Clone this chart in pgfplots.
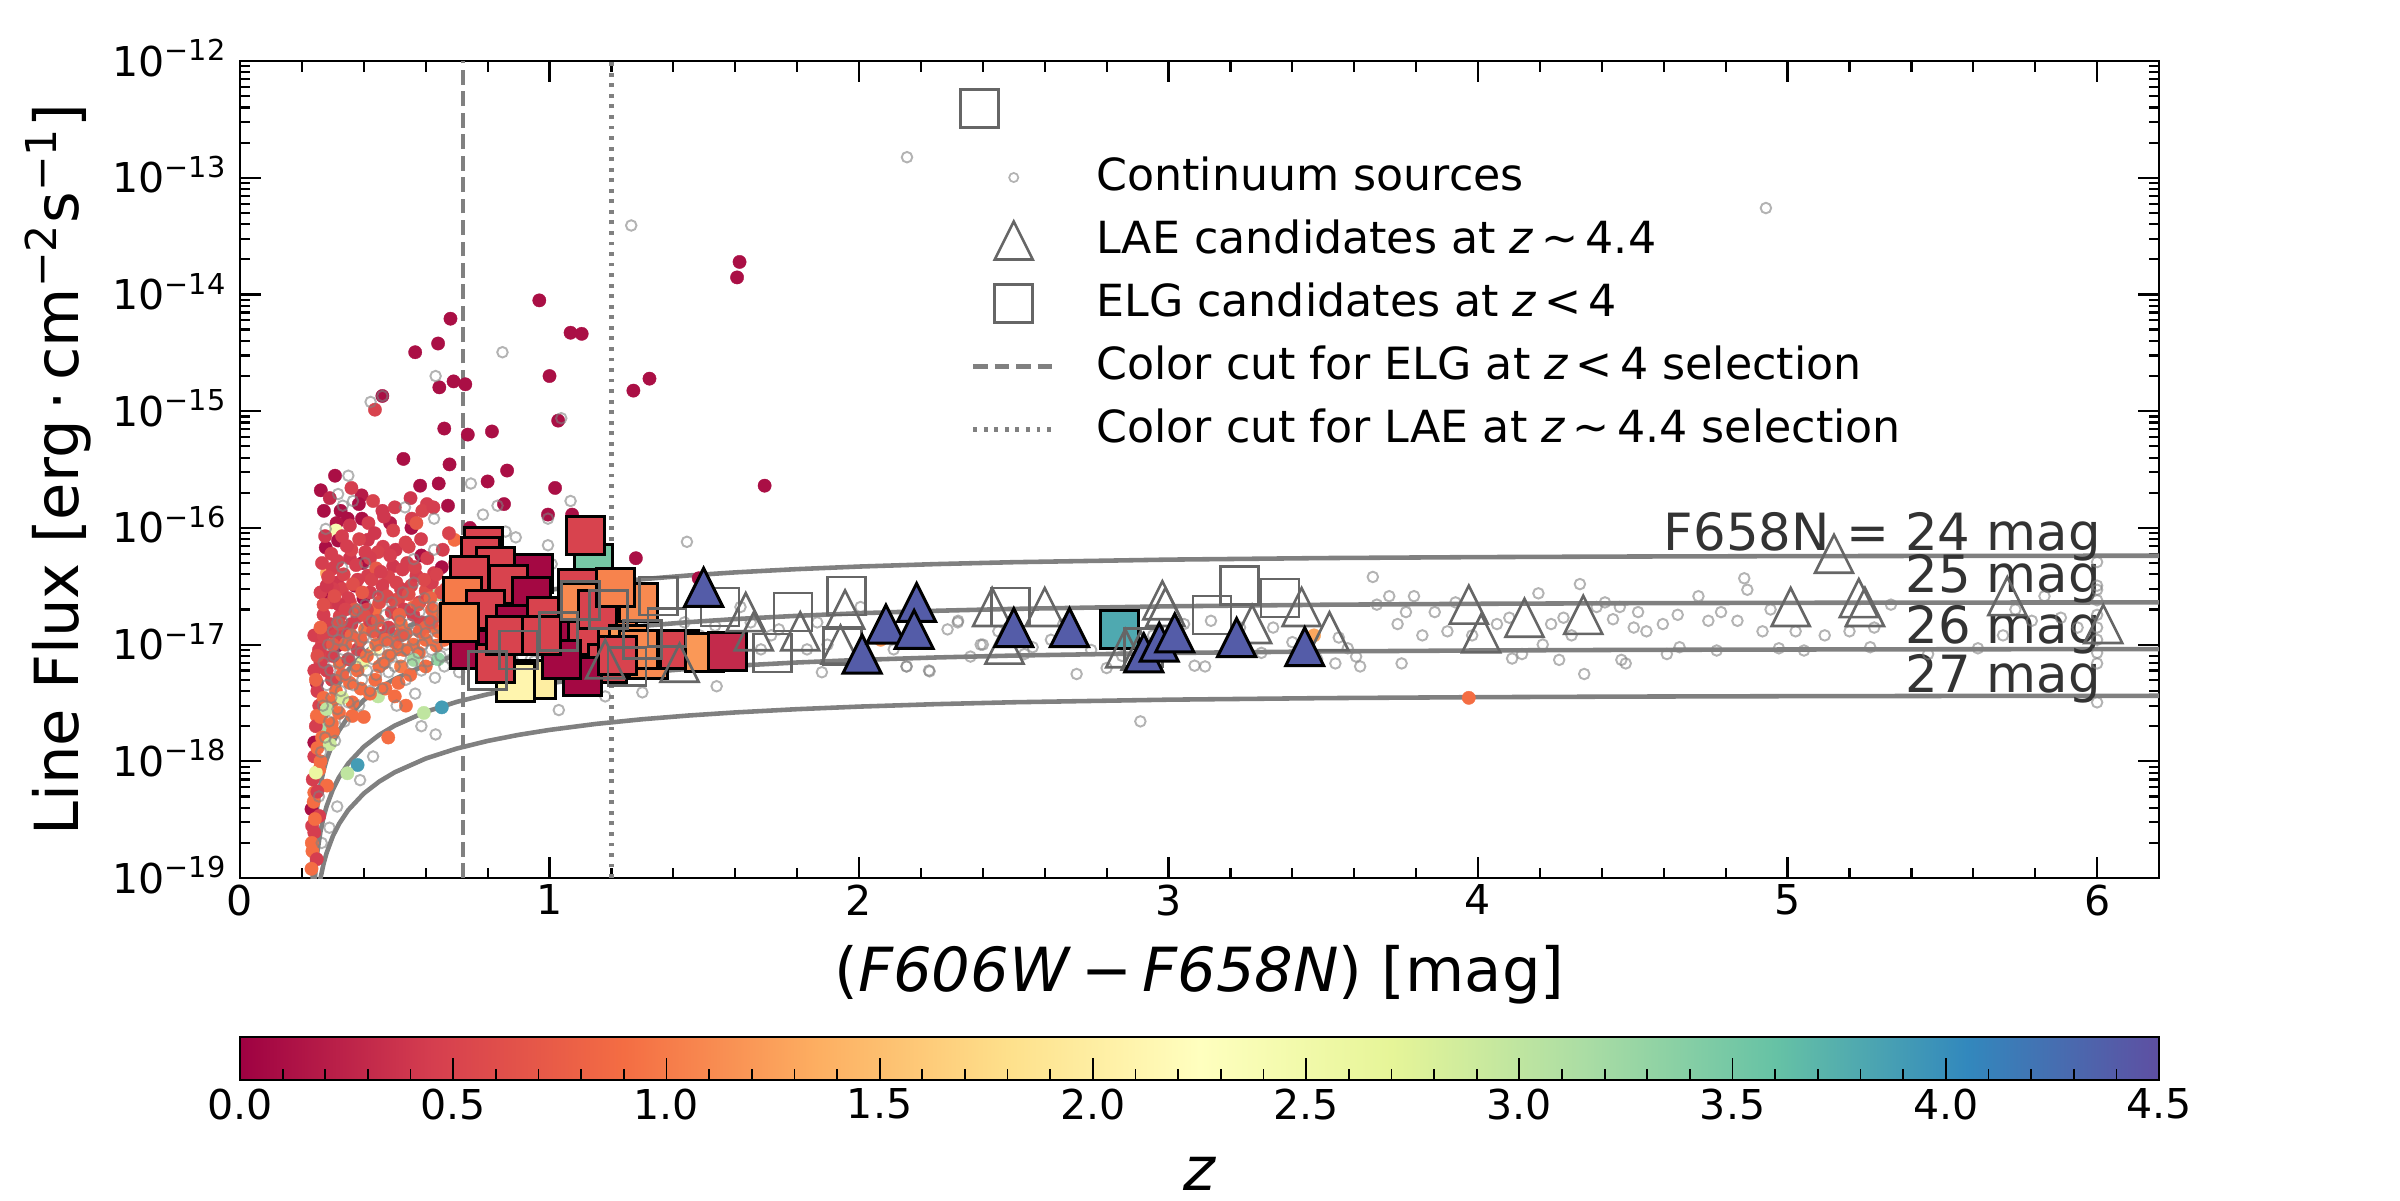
\documentclass[border=0pt]{standalone}
\usepackage{fontspec}
\setmainfont{DejaVu Sans}
\usepackage{pgfplots}
\usepackage{pgfplotstable}
\pgfplotsset{compat=1.18}
\usetikzlibrary{calc}

\newcommand{\ticksize}{\fontsize{11.7}{14}\selectfont}
\newcommand{\legsize}{\fontsize{12.6}{15}\selectfont}
\newcommand{\labsize}{\fontsize{17.3}{20}\selectfont}
\newcommand{\cursize}{\fontsize{14.6}{17}\selectfont}
\newcommand{\E}[1]{10\textsuperscript{−#1}}

% triangle like matplotlib '^' (as wide as tall)
\pgfdeclareplotmark{mtri}{%
  \pgfpathmoveto{\pgfqpoint{0pt}{\pgfplotmarksize}}%
  \pgfpathlineto{\pgfqpoint{-\pgfplotmarksize}{-\pgfplotmarksize}}%
  \pgfpathlineto{\pgfqpoint{\pgfplotmarksize}{-\pgfplotmarksize}}%
  \pgfpathclose\pgfusepathqfillstroke}
\pgfdeclareplotmark{mtrio}{%
  \pgfpathmoveto{\pgfqpoint{0pt}{\pgfplotmarksize}}%
  \pgfpathlineto{\pgfqpoint{-\pgfplotmarksize}{-\pgfplotmarksize}}%
  \pgfpathlineto{\pgfqpoint{\pgfplotmarksize}{-\pgfplotmarksize}}%
  \pgfpathclose\pgfusepathqstroke}

\pgfplotsset{
  /pgf/number format/assume math mode=true,
  mk legend/.style={legend image code/.code={\draw[##1] plot coordinates {(0.405cm,0cm)};}},
  ln legend/.style={legend image code/.code={\draw[##1] (0cm,0cm) -- (0.81cm,0cm);}},
}

% colour-coded sources (x, line flux, z)
\pgfplotstableread{
x y z
1.614 1.9e-14 0.1
1.606 1.4e-14 0.1
0.967 8.9e-15 0.1
0.680 6.2e-15 0.1
1.068 4.7e-15 0.1
1.104 4.6e-15 0.1
0.640 3.8e-15 0.1
0.566 3.2e-15 0.1
1.000 2.0e-15 0.1
1.323 1.9e-15 0.1
1.271 1.5e-15 0.1
0.690 1.8e-15 0.1
0.728 1.7e-15 0.1
0.644 1.6e-15 0.1
0.460 1.35e-15 0.1
0.436 1.03e-15 0.5
1.028 8.3e-16 0.1
0.660 7.1e-16 0.1
0.736 6.3e-16 0.1
0.814 6.7e-16 0.1
1.695 2.3e-16 0.1
0.528 3.9e-16 0.1
0.677 3.5e-16 0.1
0.307 2.8e-16 0.1
0.863 3.1e-16 0.1
0.261 2.1e-16 0.1
0.582 2.3e-16 0.1
0.642 2.4e-16 0.1
0.800 2.5e-16 0.1
1.018 2.2e-16 0.1
0.393 1.9e-16 0.2
0.271 1.4e-16 0.1
0.384 1.6e-16 0.1
0.551 1.8e-16 0.4
0.604 1.6e-16 0.45
0.589 1.4e-16 0.5
0.460 1.4e-16 0.4
0.672 1.55e-16 0.1
0.853 1.6e-16 0.1
0.348 1.2e-16 0.1
0.394 1.2e-16 0.1
0.312 1.1e-16 0.15
0.995 1.3e-16 0.1
1.073 1.3e-16 0.1
0.485 1.1e-16 0.2
0.554 1.0e-16 0.1
0.743 1.0e-16 0.1
0.310 9.5e-17 2.4
0.277 6.8e-17 0.1
0.317 7.8e-17 0.1
0.413 7.9e-17 0.4
0.462 6.9e-17 0.45
0.503 6.5e-17 0.4
0.545 6.9e-17 0.5
0.355 5.5e-17 0.4
0.396 5.0e-17 0.1
0.446 6.2e-17 0.5
0.586 5.8e-17 0.1
0.281 4.1e-17 1.3
0.314 3.4e-17 0.4
0.371 3.2e-17 0.1
0.413 3.9e-17 0.45
0.495 4.7e-17 0.4
0.553 3.2e-17 0.5
0.627 4.1e-17 0.45
0.652 4.6e-17 0.1
0.289 2.7e-17 0.1
0.297 2.3e-17 0.45
0.355 2.3e-17 0.5
0.399 2.5e-17 0.1
0.462 2.75e-17 0.5
0.512 2.45e-17 0.55
0.561 2.1e-17 0.9
0.619 2.6e-17 0.5
0.640 2.7e-17 3.1
0.668 2.5e-17 3.9
0.660 2.1e-17 0.9
0.322 1.75e-17 0.5
0.380 1.75e-17 0.45
0.437 2.0e-17 0.9
0.512 1.75e-17 0.5
0.586 1.55e-17 0.5
0.635 1.75e-17 0.8
0.281 1.35e-17 0.5
0.338 1.3e-17 0.45
0.404 1.35e-17 0.9
0.462 1.2e-17 0.5
0.536 1.25e-17 0.8
0.264 1.0e-17 0.5
0.314 9.8e-18 0.1
0.380 9.1e-18 0.5
0.437 9.1e-18 2.2
0.512 9.1e-18 0.9
0.578 8.5e-18 0.9
0.635 9.8e-18 0.9
0.272 7.9e-18 0.5
0.322 6.9e-18 0.9
0.396 6.9e-18 2.6
0.462 6.9e-18 0.9
0.561 7.4e-18 3.2
0.248 4.7e-18 0.1
0.297 5.0e-18 0.5
0.355 4.7e-18 0.9
0.437 5.0e-18 0.9
0.512 4.7e-18 0.9
0.256 3.0e-18 0.5
0.297 3.2e-18 0.9
0.363 3.2e-18 0.9
0.446 3.6e-18 3.0
0.536 3.0e-18 0.9
0.652 2.9e-18 3.9
0.248 2.45e-18 0.9
0.272 1.9e-18 3.2
0.297 2.1e-18 0.9
0.363 2.45e-18 0.9
0.479 1.6e-18 0.9
0.594 2.6e-18 3.0
0.240 1.45e-18 0.1
0.380 9.3e-19 3.9
0.347 7.9e-19 3.0
0.256 8.5e-19 0.9
0.240 5.4e-19 0.9
0.281 6.2e-19 0.9
0.231 3.9e-19 0.1
0.256 3.4e-19 0.45
0.240 2.45e-19 0.45
0.234 1.7e-19 0.9
0.248 1.45e-19 0.45
0.231 1.2e-19 0.9
0.693 7.9e-17 0.9
0.700 4.4e-17 0.1
1.135 5.4e-17 0.1
1.279 5.5e-17 0.1
1.482 3.7e-17 0.1
1.023 1.5e-17 3.9
1.130 8.1e-18 3.9
2.070 1.1e-17 1.2
3.470 1.2e-17 1.3
3.970 3.5e-18 0.9
0.330 8.5e-17 0.45
0.360 6.5e-17 0.5
0.420 5.5e-17 0.45
0.440 4.5e-17 0.7
0.480 3.8e-17 0.5
0.520 3.0e-17 0.45
0.540 5.0e-17 0.45
0.570 3.9e-17 0.45
0.600 2.9e-17 0.6
0.620 2.0e-17 0.8
0.300 4.5e-17 0.45
0.330 3.0e-17 0.5
0.350 2.5e-17 0.45
0.370 2.0e-17 0.7
0.420 2.8e-17 0.45
0.450 2.3e-17 0.6
0.490 1.9e-17 0.5
0.520 1.5e-17 0.9
0.560 1.8e-17 0.45
0.600 1.4e-17 0.8
0.640 1.3e-17 0.9
0.680 1.6e-17 1.0
0.270 1.8e-17 0.45
0.290 1.5e-17 0.45
0.310 1.2e-17 0.5
0.340 1.0e-17 0.8
0.360 1.5e-17 0.45
0.390 1.1e-17 0.8
0.420 1.6e-17 0.45
0.440 1.0e-17 0.9
0.480 1.4e-17 0.5
0.500 1.05e-17 0.8
0.530 9.0e-18 0.9
0.560 1.0e-17 0.9
0.600 1.1e-17 0.9
0.660 1.1e-17 0.9
0.690 1.3e-17 0.9
0.260 7.0e-18 0.45
0.280 6.0e-18 0.45
0.300 8.0e-18 0.45
0.330 5.5e-18 0.8
0.350 7.5e-18 0.5
0.380 6.0e-18 0.9
0.410 8.0e-18 0.9
0.450 6.5e-18 0.9
0.480 8.0e-18 0.9
0.520 6.5e-18 1.0
0.550 5.5e-18 0.9
0.600 6.5e-18 0.9
0.640 7.5e-18 3.3
0.250 4.0e-18 0.45
0.270 3.5e-18 0.9
0.310 4.0e-18 0.9
0.330 3.5e-18 2.8
0.390 4.2e-18 0.9
0.420 3.8e-18 0.9
0.470 4.2e-18 0.9
0.500 3.6e-18 0.9
0.245 2.0e-18 0.45
0.260 2.4e-18 0.9
0.280 2.8e-18 3.0
0.320 2.6e-18 0.9
0.400 2.4e-18 0.9
0.240 1.1e-18 0.45
0.250 1.3e-18 0.9
0.265 1.6e-18 0.9
0.290 1.4e-18 2.9
0.300 1.8e-18 0.9
0.235 7.0e-19 0.45
0.245 8.0e-19 2.6
0.260 1.0e-18 0.9
0.238 4.5e-19 0.9
0.250 5.5e-19 0.45
0.233 2.8e-19 0.45
0.242 3.2e-19 0.9
0.232 2.0e-19 0.9
0.300 3.0e-17 0.45
0.320 2.2e-17 0.4
0.380 3.6e-17 0.45
0.410 2.0e-17 0.5
0.460 3.2e-17 0.45
0.500 2.4e-17 0.6
0.530 2.0e-17 0.45
0.580 2.3e-17 0.5
0.620 3.4e-17 0.45
0.650 2.8e-17 0.6
0.260 2.8e-17 0.45
0.280 3.2e-17 0.4
0.240 1.2e-17 0.45
0.255 9.0e-18 0.45
0.270 1.2e-17 0.5
0.240 6.0e-18 0.45
0.265 5.0e-17 0.45
0.275 8.5e-17 0.4
0.285 3.8e-17 0.5
0.295 6.0e-17 0.45
0.305 2.6e-17 0.6
0.315 5.2e-17 0.45
0.325 1.4e-16 0.1
0.335 4.0e-17 0.5
0.345 7.0e-17 0.45
0.355 1.05e-16 0.4
0.365 3.3e-17 0.6
0.375 4.8e-17 0.45
0.385 8.0e-17 0.5
0.395 2.8e-17 0.7
0.405 6.2e-17 0.45
0.415 1.1e-16 0.45
0.425 3.6e-17 0.5
0.435 9.0e-17 0.4
0.445 1.6e-17 0.7
0.455 4.2e-17 0.45
0.465 1.25e-16 0.4
0.475 2.6e-17 0.55
0.485 5.8e-17 0.45
0.495 9.5e-17 0.5
0.505 3.4e-17 0.5
0.515 1.8e-17 0.8
0.525 4.4e-17 0.45
0.535 7.5e-17 0.5
0.545 2.7e-17 0.6
0.555 1.2e-16 0.45
0.565 4.6e-17 0.5
0.575 2.2e-17 0.7
0.585 8.0e-17 0.45
0.595 3.6e-17 0.55
0.605 5.5e-17 0.45
0.615 2.5e-17 0.8
0.625 1.5e-16 0.45
0.635 4.0e-17 0.5
0.645 1.9e-17 0.9
0.655 6.5e-17 0.45
0.665 3.0e-17 0.6
0.675 9.0e-17 0.5
0.685 2.2e-17 0.9
0.695 5.0e-17 0.45
0.705 1.4e-17 0.9
0.290 1.8e-16 0.3
0.360 2.2e-16 0.45
0.430 1.7e-16 0.5
0.500 1.5e-16 0.45
0.570 1.1e-16 0.7
0.270 2.2e-17 0.6
0.260 1.4e-17 0.8
0.250 8.0e-18 0.6
0.245 5.0e-18 0.8
0.300 1.0e-17 0.7
0.320 1.5e-17 0.6
0.340 2.0e-17 0.5
0.360 1.2e-17 0.8
0.400 1.8e-17 0.6
0.430 1.3e-17 0.7
0.470 1.1e-17 0.8
0.520 1.2e-17 0.7
0.580 1.3e-17 0.8
0.620 1.55e-17 0.7
0.670 1.9e-17 1.1
0.710 2.4e-17 1.0
0.730 1.8e-17 0.9
0.760 3.0e-17 0.5
0.800 1.2e-17 0.6
0.850 2.2e-17 0.5
}\zdots

% continuum sources (x, line flux)
\pgfplotstableread{
x y
2.155 1.5e-13
1.264 3.9e-14
4.930 5.5e-14
0.848 3.2e-15
0.632 2.0e-15
0.422 1.2e-15
0.460 1.35e-15
1.038 8.7e-16
0.350 2.8e-16
0.746 2.4e-16
0.317 1.95e-16
0.365 1.7e-16
0.332 1.55e-16
0.533 1.5e-16
0.627 1.2e-16
0.785 1.3e-16
0.832 1.55e-16
1.068 1.7e-16
0.995 1.2e-16
0.277 9.8e-17
1.444 7.6e-17
0.858 9.3e-17
0.891 8.3e-17
0.995 7.1e-17
0.790 7.7e-17
1.007 4.9e-17
0.330 4.6e-17
0.404 5.0e-17
0.561 5.4e-17
0.627 6.5e-17
0.314 1.55e-17
0.380 2.0e-17
0.561 3.4e-17
1.030 2.75e-18
1.540 4.4e-18
1.300 3.9e-18
1.180 3.6e-18
0.632 1.7e-18
0.586 2.0e-18
0.430 1.1e-18
0.388 6.9e-19
0.314 4.1e-19
0.289 2.7e-19
0.264 2.0e-19
1.741 1.35e-17
1.832 9.1e-18
1.865 1.55e-17
1.898 1.0e-17
2.005 2.1e-17
2.070 1.2e-17
2.112 9.1e-18
2.153 6.5e-18
2.228 5.9e-18
2.286 1.35e-17
2.319 1.55e-17
2.360 7.9e-18
2.393 1.0e-17
1.880 5.8e-18
1.716 1.2e-17
1.683 9.1e-18
1.584 1.0e-17
1.485 1.2e-17
1.419 9.1e-18
1.386 1.2e-17
1.337 9.1e-18
1.287 7.9e-18
1.238 6.9e-18
1.436 1.55e-17
1.535 1.45e-17
1.650 1.55e-17
1.617 2.1e-17
2.154 6.5e-18
2.226 6.0e-18
2.320 1.6e-17
2.400 1.0e-17
2.534 8.3e-18
2.561 9.5e-18
2.703 5.6e-18
2.800 6.3e-18
2.909 2.2e-18
3.084 6.6e-18
3.118 6.5e-18
3.137 1.6e-17
3.231 1.4e-17
3.338 1.4e-17
3.539 6.9e-18
3.579 9.3e-18
3.606 7.9e-18
3.619 6.5e-18
3.660 3.8e-17
3.673 2.2e-17
3.713 2.6e-17
3.740 1.5e-17
3.753 6.9e-18
3.767 1.9e-17
3.793 2.6e-17
3.820 1.2e-17
3.860 1.9e-17
3.901 1.3e-17
3.927 2.3e-17
3.981 1.2e-17
4.061 1.5e-17
4.101 1.7e-17
4.110 7.6e-18
4.142 8.3e-18
4.195 2.75e-17
4.209 1.0e-17
4.236 1.5e-17
4.262 7.4e-18
4.276 1.7e-17
4.302 1.2e-17
4.329 3.3e-17
4.343 5.6e-18
4.383 2.1e-17
4.410 2.3e-17
4.436 1.65e-17
4.458 2.1e-17
4.463 7.4e-18
4.477 6.9e-18
4.503 1.4e-17
4.517 1.9e-17
4.544 1.3e-17
4.597 1.5e-17
4.610 8.3e-18
4.645 1.8e-17
4.651 9.5e-18
4.712 2.6e-17
4.744 1.6e-17
4.771 8.9e-18
4.785 1.9e-17
4.838 1.6e-17
4.860 3.7e-17
4.870 2.95e-17
4.919 1.3e-17
4.945 2.0e-17
4.972 9.3e-18
5.026 1.3e-17
5.053 8.9e-18
5.120 1.2e-17
5.200 1.3e-17
5.267 9.5e-18
5.280 1.4e-17
5.334 2.2e-17
5.454 8.3e-18
5.615 9.3e-18
5.696 1.2e-17
5.736 2.0e-17
5.789 1.6e-17
5.830 2.6e-17
5.883 1.7e-17
5.937 1.4e-17
6.000 5.1e-17
6.000 3.2e-17
6.000 2.95e-17
6.000 2.4e-17
6.000 1.8e-17
6.000 1.4e-17
6.000 1.1e-17
6.000 8.5e-18
6.000 6.9e-18
6.000 3.2e-18
2.450 1.3e-17
2.620 1.1e-17
2.750 9.0e-18
2.950 1.2e-17
3.050 1.0e-17
3.300 8.5e-18
3.400 1.05e-17
3.480 7.5e-18
3.550 1.15e-17
3.050 1.5e-17
2.660 1.5e-17
2.850 8.0e-18
0.255 5.0e-19
0.262 1.2e-18
0.268 3.0e-18
0.270 7.0e-18
0.275 1.6e-18
0.280 4.5e-18
0.285 1.0e-17
0.288 2.2e-18
0.292 6.0e-18
0.295 3.5e-18
0.300 1.3e-17
0.303 8.0e-18
0.307 1.5e-18
0.310 5.0e-18
0.315 2.8e-18
0.318 1.1e-17
0.322 7.0e-18
0.326 4.0e-18
0.330 1.6e-17
0.334 9.0e-18
0.338 2.2e-18
0.342 5.5e-18
0.346 1.25e-17
0.350 3.2e-18
0.355 7.5e-18
0.360 1.0e-17
0.365 4.5e-18
0.370 1.9e-17
0.375 6.5e-18
0.380 1.4e-17
0.385 3.0e-18
0.390 8.5e-18
0.395 5.0e-18
0.400 1.15e-17
0.405 2.2e-17
0.410 6.0e-18
0.415 9.5e-18
0.420 4.0e-18
0.425 1.6e-17
0.430 7.5e-18
0.436 1.2e-17
0.440 5.5e-18
0.446 2.6e-17
0.450 9.0e-18
0.456 1.4e-17
0.460 4.2e-18
0.466 7.0e-18
0.470 1.8e-17
0.476 1.05e-17
0.480 5.8e-18
0.486 8.2e-18
0.490 2.3e-17
0.496 1.3e-17
0.500 6.5e-18
0.506 3.0e-18
0.510 1.0e-17
0.516 1.6e-17
0.520 7.8e-18
0.526 2.8e-17
0.530 1.2e-17
0.536 5.0e-18
0.540 9.0e-18
0.546 1.5e-17
0.550 2.0e-17
0.556 6.8e-18
0.560 1.1e-17
0.566 3.8e-18
0.570 1.35e-17
0.576 8.5e-18
0.580 1.9e-17
0.586 6.0e-18
0.590 1.0e-17
0.596 2.5e-17
0.600 1.25e-17
0.606 7.2e-18
0.612 1.6e-17
0.618 9.0e-18
0.624 2.1e-17
0.630 5.2e-18
0.636 1.15e-17
0.642 1.45e-17
0.648 8.0e-18
0.654 1.8e-17
0.660 6.5e-18
0.666 1.0e-17
0.672 2.6e-17
0.678 1.3e-17
0.684 7.5e-18
0.690 1.6e-17
0.696 9.5e-18
0.702 2.0e-17
0.708 5.8e-18
0.714 1.2e-17
0.720 8.5e-18
0.730 1.45e-17
0.740 6.8e-18
0.750 1.05e-17
0.760 2.2e-17
0.770 7.5e-18
0.780 1.25e-17
0.790 5.5e-18
0.800 9.5e-18
0.810 1.7e-17
0.820 6.2e-18
0.830 1.1e-17
0.840 8.0e-18
0.850 1.4e-17
0.860 5.0e-18
0.870 2.0e-17
0.880 9.0e-18
0.890 6.8e-18
0.900 1.2e-17
0.910 8.0e-18
0.920 1.6e-17
0.930 5.8e-18
0.940 1.0e-17
0.950 7.2e-18
0.960 1.35e-17
0.970 2.4e-17
0.980 8.5e-18
0.990 6.0e-18
1.000 1.1e-17
1.010 1.8e-17
1.020 7.0e-18
1.030 9.5e-18
1.040 1.3e-17
1.050 5.2e-18
1.060 2.1e-17
1.070 8.0e-18
1.080 1.15e-17
1.090 6.5e-18
1.100 1.5e-17
1.110 9.0e-18
1.120 7.5e-18
1.130 1.25e-17
1.140 5.8e-18
1.150 1.0e-17
1.160 1.7e-17
1.170 8.2e-18
1.180 1.2e-17
1.190 6.5e-18
1.200 9.5e-18
1.210 1.4e-17
1.225 7.0e-18
1.240 1.1e-17
1.260 8.5e-18
}\gcirc

% ELG candidates with redshift (filled squares)
\pgfplotstableread{
x y z
1.142 5.0e-17 3.5
0.787 6.9e-17 0.5
0.776 5.7e-17 0.5
0.825 4.7e-17 0.5
0.949 4.1e-17 0.05
0.866 3.3e-17 0.5
0.743 3.9e-17 0.5
1.089 3.0e-17 0.5
0.941 2.6e-17 0.05
0.718 2.6e-17 1.0
0.792 2.0e-17 0.5
0.891 1.5e-17 0.05
0.990 1.75e-17 0.5
1.056 1.2e-17 0.05
1.122 1.2e-17 0.5
1.221 1.4e-17 1.05
1.287 2.3e-17 1.1
1.320 7.4e-18 1.1
1.188 6.9e-18 0.5
1.419 9.1e-18 0.5
1.502 8.5e-18 1.2
1.576 8.8e-18 0.3
0.957 5.0e-18 2.0
0.891 4.7e-18 2.1
1.106 5.3e-18 0.05
1.040 7.4e-18 0.05
0.743 9.1e-18 0.05
0.825 6.9e-18 0.5
0.858 1.2e-17 0.5
0.710 1.55e-17 1.1
1.089 2.3e-17 1.1
1.155 2.0e-17 0.5
0.974 1.2e-17 0.5
1.254 1.0e-17 1.2
1.287 9.1e-18 1.1
1.221 8.0e-18 0.5
1.213 3.1e-17 1.05
1.117 8.6e-17 0.5
2.840 1.35e-17 3.8
}\elgf

% ELG candidates, open squares
\pgfplotstableread{
x y
2.390 3.9e-13
1.353 2.6e-17
1.551 2.1e-17
1.787 1.9e-17
1.960 2.6e-17
1.947 9.7e-18
2.490 2.1e-17
3.230 3.2e-17
3.360 2.5e-17
3.140 1.8e-17
1.190 2.0e-17
1.100 2.4e-17
1.380 1.4e-17
1.300 1.1e-17
1.030 1.3e-17
0.900 9.0e-18
1.720 8.5e-18
2.920 9.5e-18
0.800 6.0e-18
1.250 6.5e-18
}\elgo

% LAE candidates, open triangles
\pgfplotstableread{
x y
1.634 1.9e-17
1.660 1.3e-17
1.810 1.3e-17
1.955 2.0e-17
1.940 1.0e-17
1.420 7.0e-18
1.180 7.5e-18
2.430 2.1e-17
2.600 2.1e-17
2.470 1.0e-17
2.980 2.4e-17
2.990 2.1e-17
2.860 9.3e-18
2.910 8.9e-18
3.270 1.5e-17
3.430 2.1e-17
3.520 1.3e-17
3.970 2.2e-17
4.010 1.25e-17
4.150 1.7e-17
4.340 1.8e-17
5.010 2.1e-17
5.150 6.0e-17
5.230 2.5e-17
5.250 2.1e-17
5.710 2.6e-17
6.020 1.5e-17
}\laeo

% LAE candidates with redshift (filled triangles)
\pgfplotstableread{
x y z
1.498 3.1e-17 4.4
2.010 8.3e-18 4.4
2.087 1.5e-17 4.4
2.186 2.3e-17 4.4
2.178 1.35e-17 4.4
2.500 1.4e-17 4.4
2.680 1.4e-17 4.4
2.920 8.5e-18 4.4
2.970 1.05e-17 4.4
3.020 1.26e-17 4.4
3.220 1.15e-17 4.4
3.440 9.6e-18 4.4
}\laef

% constant F658N magnitude tracks (24, 25, 26, 27 mag)
\pgfplotstableread{
c f24 f25 f26 f27
0.232 1.067e-19 4.25e-20 1.69e-20 6.73e-21
0.234 2.133e-19 8.49e-20 3.38e-20 1.35e-20
0.237 3.728e-19 1.484e-19 5.91e-20 2.35e-20
0.240 5.317e-19 2.117e-19 8.43e-20 3.36e-20
0.245 7.958e-19 3.168e-19 1.261e-19 5.02e-20
0.250 1.0586e-18 4.214e-19 1.678e-19 6.68e-20
0.260 1.5807e-18 6.293e-19 2.505e-19 9.97e-20
0.270 2.098e-18 8.352e-19 3.325e-19 1.324e-19
0.280 2.610e-18 1.0392e-18 4.138e-19 1.647e-19
0.300 3.621e-18 1.4417e-18 5.740e-19 2.285e-19
0.320 4.614e-18 1.8368e-18 7.313e-19 2.912e-19
0.350 6.069e-18 2.416e-18 9.619e-19 3.830e-19
0.400 8.406e-18 3.347e-18 1.3324e-18 5.305e-19
0.450 1.0638e-17 4.235e-18 1.6862e-18 6.713e-19
0.500 1.2770e-17 5.084e-18 2.0240e-18 8.058e-19
0.600 1.6750e-17 6.668e-18 2.6548e-18 1.0570e-18
0.700 2.0379e-17 8.113e-18 3.2301e-18 1.2860e-18
0.800 2.3689e-17 9.431e-18 3.7548e-18 1.4949e-18
0.900 2.6708e-17 1.0633e-17 4.2333e-18 1.6854e-18
1.000 2.9462e-17 1.1729e-17 4.6697e-18 1.8591e-18
1.150 3.3144e-17 1.3195e-17 5.2533e-18 2.0915e-18
1.300 3.6352e-17 1.4472e-17 5.7617e-18 2.2939e-18
1.450 3.9145e-17 1.5584e-17 6.2045e-18 2.4702e-18
1.600 4.1578e-17 1.6552e-17 6.5901e-18 2.6237e-18
1.800 4.4341e-17 1.7652e-17 7.0280e-18 2.7981e-18
2.000 4.6639e-17 1.8567e-17 7.3922e-18 2.9431e-18
2.250 4.8975e-17 1.9497e-17 7.7626e-18 3.0905e-18
2.500 5.0831e-17 2.0236e-17 8.0568e-18 3.2076e-18
3.000 5.3477e-17 2.1289e-17 8.4761e-18 3.3746e-18
3.500 5.5146e-17 2.1954e-17 8.7407e-18 3.4799e-18
4.000 5.6199e-17 2.2373e-17 8.9076e-18 3.5464e-18
4.500 5.6864e-17 2.2638e-17 9.0129e-18 3.5883e-18
5.000 5.7283e-17 2.2805e-17 9.0794e-18 3.6148e-18
5.500 5.7548e-17 2.2910e-17 9.1213e-18 3.6315e-18
6.200 5.7763e-17 2.2995e-17 9.1554e-18 3.6450e-18
}\curves

\begin{document}
\begin{tikzpicture}
\path[use as bounding box] (0,0) rectangle (24cm,12cm);
\begin{axis}[
    name=main,
    at={(2.40cm,3.22cm)}, anchor=south west,
    scale only axis, width=19.19cm, height=8.17cm,
    xmin=0, xmax=6.2, ymin=1e-19, ymax=1e-12, ymode=log,
    xtick={0,1,2,3,4,5,6}, minor x tick num=4,
    ytick={1e-19,1e-18,1e-17,1e-16,1e-15,1e-14,1e-13,1e-12},
    yticklabels={\E{19},\E{18},\E{17},\E{16},\E{15},\E{14},\E{13},\E{12}},
    minor ytick={2e-19,3e-19,4e-19,5e-19,6e-19,7e-19,8e-19,9e-19,
                 2e-18,3e-18,4e-18,5e-18,6e-18,7e-18,8e-18,9e-18,
                 2e-17,3e-17,4e-17,5e-17,6e-17,7e-17,8e-17,9e-17,
                 2e-16,3e-16,4e-16,5e-16,6e-16,7e-16,8e-16,9e-16,
                 2e-15,3e-15,4e-15,5e-15,6e-15,7e-15,8e-15,9e-15,
                 2e-14,3e-14,4e-14,5e-14,6e-14,7e-14,8e-14,9e-14,
                 2e-13,3e-13,4e-13,5e-13,6e-13,7e-13,8e-13,9e-13},
    tick align=inside,
    major tick length=0.21cm, minor tick length=0.105cm,
    every tick/.style={black, line width=0.63pt},
    axis line style={line width=0.63pt},
    tick label style={font=\ticksize},
    xticklabel style={inner sep=0pt, yshift=-0.06cm},
    yticklabel style={inner sep=0pt, anchor=base east, xshift=-0.12cm, yshift=-4.26pt},
    xlabel={(\textit{F606W}\,−\,\textit{F658N}) [mag]},
    ylabel={Line Flux [erg\,·\,cm\textsuperscript{−2}s\textsuperscript{−1}]},
    label style={font=\labsize},
    xlabel style={at={(axis description cs:0.5,-0.1383)}, anchor=base},
    ylabel style={at={(axis description cs:-0.0844,0.5)}, anchor=base},
    colormap={spectral}{rgb255=(158,1,66) rgb255=(213,62,79) rgb255=(244,109,67)
      rgb255=(253,174,97) rgb255=(254,224,139) rgb255=(255,255,191) rgb255=(230,245,152)
      rgb255=(171,221,164) rgb255=(102,194,165) rgb255=(50,136,189) rgb255=(94,79,162)},
    point meta min=0, point meta max=4.5,
    colorbar horizontal,
    colorbar/width=0.43cm,
    colorbar style={
        at={($(parent axis.south west)+(0cm,-1.29cm)$)}, anchor=north west,
        scale only axis, width=19.19cm, height=0.43cm,
        xtick={0,0.5,1,1.5,2,2.5,3,3.5,4,4.5}, minor x tick num=4,
        ytick=\empty,
        xtick pos=left, xticklabel pos=left,
        tick align=inside,
        major tick length=0.22cm, minor tick length=0.11cm,
        every tick/.style={black, line width=0.5pt},
        axis line style={line width=0.63pt},
        tick label style={font=\ticksize},
        xticklabel style={/pgf/number format/.cd, fixed, fixed zerofill, precision=1,
          /tikz/.cd, inner sep=0pt, yshift=-0.08cm},
    },
    legend style={
        at={(axis description cs:0.3810,0.8862)}, anchor=north west,
        draw=none, fill=none, inner sep=0pt, outer sep=0pt,
        font=\legsize, row sep=0.16cm, column sep=0.40cm,
        nodes={inner sep=0pt, text height=0.36cm, text depth=0.11cm},
    },
    legend cell align=left,
]

% colour-coded sources
\addplot[scatter, only marks, mark=*, mark size=1.9pt, point meta=explicit,
    scatter/use mapped color={draw=mapped color, fill=mapped color},
    mark options={line width=0.1pt}, forget plot]
    table[x=x, y=y, meta=z] {\zdots};

% continuum sources
\addplot[only marks, mark=o, mark size=1.5pt,
    mark options={draw=gray, opacity=0.6, line width=0.55pt}, forget plot]
    table[x=x, y=y] {\gcirc};

% colour cuts
\addplot[gray, line width=1.2pt, dash pattern=on 4.2pt off 1.9pt, forget plot]
    coordinates {(0.72,1e-19) (0.72,1e-12)};
\addplot[gray, line width=1.2pt, dash pattern=on 1.1pt off 1.9pt, forget plot]
    coordinates {(1.2,1e-19) (1.2,1e-12)};

% magnitude tracks
\addplot[gray, line width=1.3pt, forget plot] table[x=c, y=f24] {\curves};
\addplot[gray, line width=1.3pt, forget plot] table[x=c, y=f25] {\curves};
\addplot[gray, line width=1.3pt, forget plot] table[x=c, y=f26] {\curves};
\addplot[gray, line width=1.3pt, forget plot] table[x=c, y=f27] {\curves};

% ELG candidates
\addplot[scatter, only marks, mark=square*, mark size=0.19cm, point meta=explicit,
    scatter/use mapped color={draw=black, fill=mapped color},
    mark options={line width=0.85pt}, forget plot]
    table[x=x, y=y, meta=z] {\elgf};
\addplot[only marks, mark=square, mark size=0.19cm,
    mark options={draw=black!60, line width=0.75pt}, forget plot]
    table[x=x, y=y] {\elgo};

% LAE candidates
\addplot[only marks, mark=mtrio, mark size=0.19cm,
    mark options={draw=black!60, line width=0.75pt}, forget plot]
    table[x=x, y=y] {\laeo};
\addplot[scatter, only marks, mark=mtri, mark size=0.19cm, point meta=explicit,
    scatter/use mapped color={draw=black, fill=mapped color},
    mark options={line width=0.85pt}, forget plot]
    table[x=x, y=y, meta=z] {\laef};

% track labels
\node[anchor=base east, inner sep=0pt, font=\cursize, text=black!80] at (axis cs:6.015,6.46e-17) {F658N = 24 mag};
\node[anchor=base east, inner sep=0pt, font=\cursize, text=black!80] at (axis cs:6.015,2.82e-17) {25 mag};
\node[anchor=base east, inner sep=0pt, font=\cursize, text=black!80] at (axis cs:6.015,1.03e-17) {26 mag};
\node[anchor=base east, inner sep=0pt, font=\cursize, text=black!80] at (axis cs:6.015,3.92e-18) {27 mag};

% legend
\addlegendimage{mk legend, only marks, mark=o, mark size=1.3pt,
    mark options={draw=gray, opacity=0.6, line width=0.5pt}}
\addlegendentry{Continuum sources}
\addlegendimage{mk legend, only marks, mark=mtrio, mark size=0.19cm,
    mark options={draw=black!60, line width=0.75pt}}
\addlegendentry{LAE candidates at \textit{z}\,∼\,4.4}
\addlegendimage{mk legend, only marks, mark=square, mark size=0.19cm,
    mark options={draw=black!60, line width=0.75pt}}
\addlegendentry{ELG candidates at \textit{z}\,<\,4}
\addlegendimage{ln legend, gray, line width=1.2pt, dash pattern=on 4.2pt off 1.9pt}
\addlegendentry{Color cut for ELG at \textit{z}\,<\,4 selection}
\addlegendimage{ln legend, gray, line width=1.2pt, dash pattern=on 1.1pt off 1.9pt}
\addlegendentry{Color cut for LAE at \textit{z}\,∼\,4.4 selection}
\end{axis}
% colour bar label
\node[font=\labsize, anchor=base, inner sep=0pt] at ($(main.south)+(0cm,-3.12cm)$) {\textit{z}};
\end{tikzpicture}
\end{document}
